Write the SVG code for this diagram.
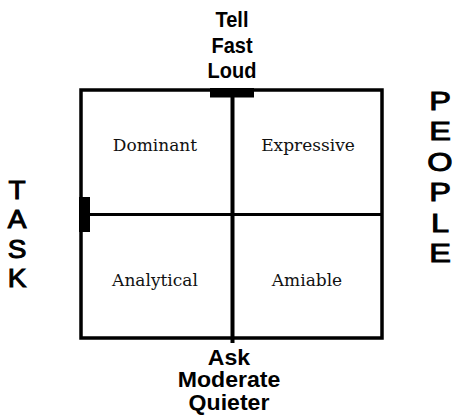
<svg xmlns="http://www.w3.org/2000/svg" width="455" height="419" viewBox="0 0 455 419">
<style>
.ax{font-family:"Liberation Sans",Arial,sans-serif;font-weight:bold;fill:#000;text-anchor:middle}
.top{font-size:20px}
.bot{font-size:22px}
.side{font-family:"Liberation Sans",Arial,sans-serif;fill:#000;stroke:#000;stroke-width:1;text-anchor:middle}
.q{font-family:"DejaVu Serif","Liberation Serif",serif;font-size:17px;fill:#111;text-anchor:middle}
.ln{stroke:#000;fill:none}
</style>
<rect width="455" height="419" fill="#fff"/>
<g id="connectors">
<rect class="ln" x="81" y="90" width="301" height="248" stroke-width="3.5"/>
<line class="ln" x1="232.5" y1="90" x2="232.5" y2="343" stroke-width="4"/>
<line class="ln" x1="81" y1="214.5" x2="382" y2="214.5" stroke-width="3"/>
<rect x="210" y="88" width="44" height="9.5" fill="#000"/>
<rect x="79" y="197" width="11" height="35" fill="#000"/>
</g>
<g id="top-label" transform="translate(232 0) scale(1 1.12)">
<text class="ax top"><tspan x="0" y="24.3">Tell</tspan><tspan x="0" y="47.3">Fast</tspan><tspan x="0" y="69.6">Loud</tspan></text>
</g>
<g id="bottom-label" transform="translate(229 0) scale(1.05 1)">
<text class="ax bot"><tspan x="0" y="365">Ask</tspan><tspan x="0" y="387.5">Moderate</tspan><tspan x="0" y="410">Quieter</tspan></text>
</g>
<g id="task" transform="translate(17 0) scale(1.12 1)">
<text class="side" font-size="25"><tspan x="0" y="199">T</tspan><tspan x="0" y="228.5">A</tspan><tspan x="0" y="258">S</tspan><tspan x="0" y="287">K</tspan></text>
</g>
<g id="people" transform="translate(440 0) scale(1.25 1)">
<text class="side" font-size="26"><tspan x="0" y="110">P</tspan><tspan x="0" y="140.5">E</tspan><tspan x="0" y="171">O</tspan><tspan x="0" y="201.5">P</tspan><tspan x="0" y="232">L</tspan><tspan x="0" y="262">E</tspan></text>
</g>
<g id="dominant"><text class="q" x="155" y="151">Dominant</text></g>
<g id="expressive"><text class="q" x="308" y="151">Expressive</text></g>
<g id="analytical"><text class="q" x="155" y="286">Analytical</text></g>
<g id="amiable"><text class="q" x="307" y="286">Amiable</text></g>
</svg>
